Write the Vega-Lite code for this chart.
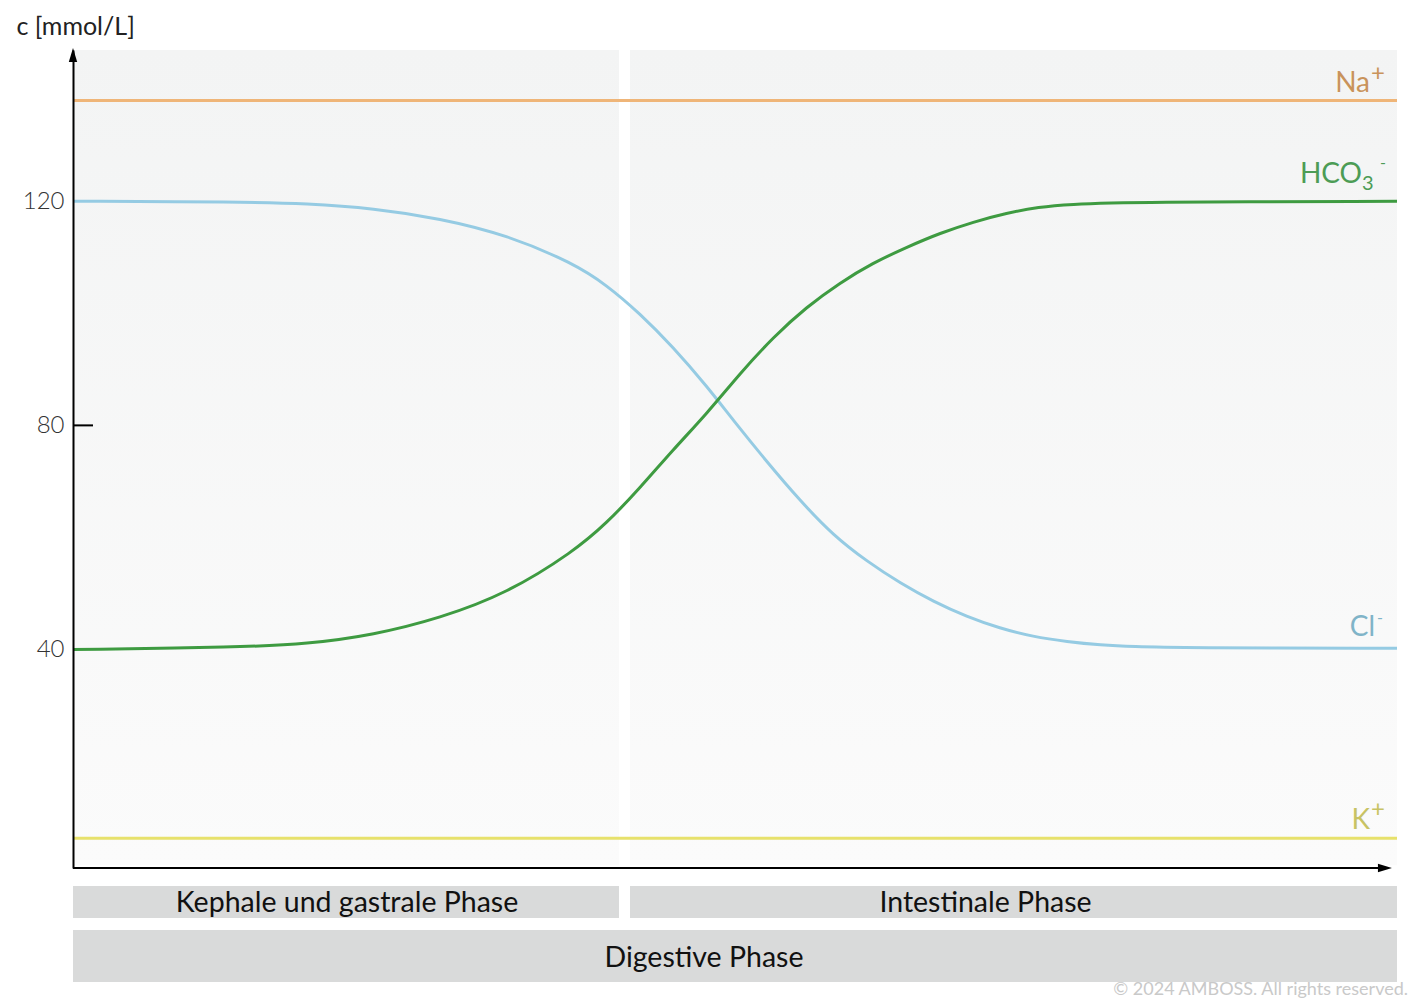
{
  "$schema": "https://vega.github.io/schema/vega-lite/v6.json",
  "width": 1324,
  "height": 818,
  "autosize": {"type": "none"},
  "padding": {"left": 73, "top": 50, "right": 17, "bottom": 132},
  "background": "white",
  "config": {"view": {"stroke": null}, "font": "Lato"},
  "resolve": {"axis": {"y": "independent", "x": "independent"}},
  "datasets": {
    "ions": [
      {"ion": "Na+", "t": 0, "c": 138},
      {"ion": "Na+", "t": 100, "c": 138},
      {"ion": "K+", "t": 0, "c": 6.3},
      {"ion": "K+", "t": 100, "c": 6.3},
      {"ion": "Cl-", "t": 0, "c": 120},
      {"ion": "Cl-", "t": 12.6, "c": 119.9},
      {"ion": "Cl-", "t": 17.7, "c": 119.6},
      {"ion": "Cl-", "t": 22.7, "c": 118.75},
      {"ion": "Cl-", "t": 27.7, "c": 116.96},
      {"ion": "Cl-", "t": 32.8, "c": 113.98},
      {"ion": "Cl-", "t": 37.8, "c": 108.93},
      {"ion": "Cl-", "t": 40.3, "c": 105.06},
      {"ion": "Cl-", "t": 42.8, "c": 100.0},
      {"ion": "Cl-", "t": 45.3, "c": 94.04},
      {"ion": "Cl-", "t": 47.9, "c": 86.91},
      {"ion": "Cl-", "t": 49.85, "c": 80.96},
      {"ion": "Cl-", "t": 52.4, "c": 73.52},
      {"ion": "Cl-", "t": 54.9, "c": 66.6},
      {"ion": "Cl-", "t": 57.4, "c": 60.4},
      {"ion": "Cl-", "t": 60.0, "c": 55.67},
      {"ion": "Cl-", "t": 62.5, "c": 51.81},
      {"ion": "Cl-", "t": 65.0, "c": 48.53},
      {"ion": "Cl-", "t": 67.5, "c": 45.85},
      {"ion": "Cl-", "t": 70.0, "c": 43.78},
      {"ion": "Cl-", "t": 72.5, "c": 42.28},
      {"ion": "Cl-", "t": 75.1, "c": 41.39},
      {"ion": "Cl-", "t": 77.6, "c": 40.8},
      {"ion": "Cl-", "t": 80.1, "c": 40.5},
      {"ion": "Cl-", "t": 83.6, "c": 40.32},
      {"ion": "Cl-", "t": 100, "c": 40.2},
      {"ion": "HCO3-", "t": 0, "c": 40},
      {"ion": "HCO3-", "t": 12.6, "c": 40.39},
      {"ion": "HCO3-", "t": 17.7, "c": 40.98},
      {"ion": "HCO3-", "t": 22.7, "c": 42.59},
      {"ion": "HCO3-", "t": 27.7, "c": 45.57},
      {"ion": "HCO3-", "t": 32.8, "c": 50.03},
      {"ion": "HCO3-", "t": 37.8, "c": 57.46},
      {"ion": "HCO3-", "t": 40.3, "c": 62.52},
      {"ion": "HCO3-", "t": 42.8, "c": 68.77},
      {"ion": "HCO3-", "t": 45.3, "c": 75.61},
      {"ion": "HCO3-", "t": 47.9, "c": 82.16},
      {"ion": "HCO3-", "t": 50.4, "c": 89.35},
      {"ion": "HCO3-", "t": 52.9, "c": 95.78},
      {"ion": "HCO3-", "t": 55.4, "c": 101.13},
      {"ion": "HCO3-", "t": 57.9, "c": 105.41},
      {"ion": "HCO3-", "t": 60.4, "c": 108.98},
      {"ion": "HCO3-", "t": 63.0, "c": 111.84},
      {"ion": "HCO3-", "t": 65.5, "c": 114.34},
      {"ion": "HCO3-", "t": 68.0, "c": 116.3},
      {"ion": "HCO3-", "t": 70.5, "c": 117.91},
      {"ion": "HCO3-", "t": 73.0, "c": 118.98},
      {"ion": "HCO3-", "t": 75.1, "c": 119.45},
      {"ion": "HCO3-", "t": 80.1, "c": 119.87},
      {"ion": "HCO3-", "t": 100, "c": 120}
    ],
    "phases": [
      {"phase": "Kephale und gastrale Phase", "start": 0, "end": 41.24, "level": "sub"},
      {"phase": "Intestinale Phase", "start": 42.07, "end": 100, "level": "sub"},
      {"phase": "Digestive Phase", "start": 0, "end": 100, "level": "main"}
    ],
    "one": [{}]
  },
  "layer": [
    {
      "data": {"name": "phases"},
      "transform": [{"filter": "datum.level == 'sub'"}],
      "mark": {"type": "rect", "fill": {"gradient": "linear", "x1": 0, "y1": 0, "x2": 0, "y2": 1, "stops": [{"offset": 0, "color": "#f3f4f4"}, {"offset": 1, "color": "#fbfbfb"}]}, "strokeWidth": 0},
      "encoding": {
        "x": {"field": "start", "type": "quantitative", "scale": {"domain": [0, 100], "nice": false, "zero": false}, "axis": null},
        "x2": {"field": "end"},
        "y": {"datum": 147, "type": "quantitative", "scale": {"domain": [1, 147], "nice": false, "zero": false}, "axis": null},
        "y2": {"datum": 1.5}
      }
    },
    {
      "data": {"name": "phases"},
      "transform": [{"filter": "datum.level == 'sub'"}],
      "mark": {"type": "rect", "fill": "#d9dada", "strokeWidth": 0},
      "encoding": {
        "x": {"field": "start", "type": "quantitative", "scale": {"domain": [0, 100], "nice": false, "zero": false}, "axis": null},
        "x2": {"field": "end"},
        "y": {"datum": -2.21, "type": "quantitative", "scale": {"domain": [1, 147], "nice": false, "zero": false}, "axis": null},
        "y2": {"datum": -7.92}
      }
    },
    {
      "data": {"name": "phases"},
      "transform": [{"filter": "datum.level == 'main'"}],
      "mark": {"type": "rect", "fill": "#d9dada", "strokeWidth": 0},
      "encoding": {
        "x": {"field": "start", "type": "quantitative", "scale": {"domain": [0, 100], "nice": false, "zero": false}, "axis": null},
        "x2": {"field": "end"},
        "y": {"datum": -10.07, "type": "quantitative", "scale": {"domain": [1, 147], "nice": false, "zero": false}, "axis": null},
        "y2": {"datum": -19.35}
      }
    },
    {
      "data": {"name": "phases"},
      "transform": [{"filter": "datum.phase == 'Kephale und gastrale Phase'"}, {"calculate": "(datum.start + datum.end) / 2", "as": "mid"}],
      "mark": {"type": "text", "align": "center", "baseline": "alphabetic", "fontSize": 28.5, "color": "#111111", "dx": 1},
      "encoding": {
        "x": {"field": "mid", "type": "quantitative", "scale": {"domain": [0, 100], "nice": false, "zero": false}, "axis": null},
        "y": {"datum": -6.85, "type": "quantitative", "scale": {"domain": [1, 147], "nice": false, "zero": false}, "axis": null},
        "text": {"field": "phase"}
      }
    },
    {
      "data": {"name": "phases"},
      "transform": [{"filter": "datum.phase == 'Intestinale Phase'"}, {"calculate": "(datum.start + datum.end) / 2", "as": "mid"}],
      "mark": {"type": "text", "align": "center", "baseline": "alphabetic", "fontSize": 28.5, "color": "#111111", "dx": -28},
      "encoding": {
        "x": {"field": "mid", "type": "quantitative", "scale": {"domain": [0, 100], "nice": false, "zero": false}, "axis": null},
        "y": {"datum": -6.85, "type": "quantitative", "scale": {"domain": [1, 147], "nice": false, "zero": false}, "axis": null},
        "text": {"field": "phase"}
      }
    },
    {
      "data": {"name": "phases"},
      "transform": [{"filter": "datum.phase == 'Digestive Phase'"}, {"calculate": "(datum.start + datum.end) / 2", "as": "mid"}],
      "mark": {"type": "text", "align": "center", "baseline": "alphabetic", "fontSize": 28.5, "color": "#111111", "dx": -31},
      "encoding": {
        "x": {"field": "mid", "type": "quantitative", "scale": {"domain": [0, 100], "nice": false, "zero": false}, "axis": null},
        "y": {"datum": -16.67, "type": "quantitative", "scale": {"domain": [1, 147], "nice": false, "zero": false}, "axis": null},
        "text": {"field": "phase"}
      }
    },
    {
      "data": {"name": "ions"},
      "mark": {"type": "line", "strokeWidth": 3, "interpolate": "basis"},
      "encoding": {
        "x": {"field": "t", "type": "quantitative", "scale": {"domain": [0, 100], "nice": false, "zero": false}, "axis": null},
        "y": {
          "field": "c", "type": "quantitative",
          "scale": {"domain": [1, 147], "nice": false, "zero": false},
          "axis": {
            "orient": "left",
            "values": [40, 80, 120], "ticks": false, "grid": false, "zindex": 1,
            "domainColor": "#000000", "domainWidth": 2,
            "labelFontSize": 24, "labelFontWeight": 300, "labelColor": "#333333", "labelPadding": 9, "labelFont": "Lato",
            "title": "c [mmol/L]", "titleAngle": 0, "titleX": -57, "titleY": -16, "titleAlign": "left", "titleBaseline": "alphabetic",
            "titleFontSize": 25, "titleFontWeight": 400, "titleColor": "#222222", "titleFont": "Lato"
          }
        },
        "color": {"field": "ion", "type": "nominal", "scale": {"domain": ["Na+", "K+", "Cl-", "HCO3-"], "range": ["#efb578", "#e7e16b", "#95cbe3", "#3e9b41"]}, "legend": null},
        "order": {"field": "t", "type": "quantitative"}
      }
    },
    {
      "data": {"name": "one"},
      "mark": {"type": "rule", "color": "#000000", "strokeWidth": 2},
      "encoding": {
        "x": {"datum": 0, "type": "quantitative", "scale": {"domain": [0, 100], "nice": false, "zero": false}, "axis": null},
        "x2": {"datum": 1.51},
        "y": {"datum": 80, "type": "quantitative", "scale": {"domain": [1, 147], "nice": false, "zero": false}, "axis": null}
      }
    },
    {
      "data": {"name": "one"},
      "mark": {"type": "rule", "color": "#000000", "strokeWidth": 2},
      "encoding": {
        "x": {"datum": 0, "type": "quantitative", "scale": {"domain": [0, 100], "nice": false, "zero": false}, "axis": null},
        "x2": {"datum": 99.0},
        "y": {"datum": 1, "type": "quantitative", "scale": {"domain": [1, 147], "nice": false, "zero": false}, "axis": null}
      }
    },
    {
      "data": {"name": "one"},
      "mark": {"type": "point", "shape": "M0,-1L0.6,1L-0.6,1Z", "filled": true, "color": "#000000", "size": 196, "opacity": 1, "strokeWidth": 0},
      "encoding": {
        "x": {"datum": 0, "type": "quantitative", "scale": {"domain": [0, 100], "nice": false, "zero": false}, "axis": null},
        "y": {"datum": 146.1, "type": "quantitative", "scale": {"domain": [1, 147], "nice": false, "zero": false}, "axis": null}
      }
    },
    {
      "data": {"name": "one"},
      "mark": {"type": "point", "shape": "M1,0L-1,-0.6L-1,0.6Z", "filled": true, "color": "#000000", "size": 196, "opacity": 1, "strokeWidth": 0},
      "encoding": {
        "x": {"datum": 99.09, "type": "quantitative", "scale": {"domain": [0, 100], "nice": false, "zero": false}, "axis": null},
        "y": {"datum": 1, "type": "quantitative", "scale": {"domain": [1, 147], "nice": false, "zero": false}, "axis": null}
      }
    },
    {
      "data": {"name": "ions"},
      "transform": [{"filter": "datum.ion == 'Na+' && datum.t == 100"}],
      "layer": [
        {"mark": {"type": "text", "text": "Na", "align": "right", "baseline": "alphabetic", "dx": -27, "dy": -8, "fontSize": 28, "color": "#c9935b"}},
        {"mark": {"type": "text", "text": "+", "align": "center", "baseline": "middle", "dx": -19, "dy": -26, "fontSize": 24, "color": "#c9935b"}}
      ],
      "encoding": {
        "x": {"field": "t", "type": "quantitative", "scale": {"domain": [0, 100], "nice": false, "zero": false}, "axis": null},
        "y": {"field": "c", "type": "quantitative", "scale": {"domain": [1, 147], "nice": false, "zero": false}, "axis": null}
      }
    },
    {
      "data": {"name": "ions"},
      "transform": [{"filter": "datum.ion == 'HCO3-' && datum.t == 100"}],
      "layer": [
        {"mark": {"type": "text", "text": "HCO", "align": "right", "baseline": "alphabetic", "dx": -35, "dy": -18, "fontSize": 28, "color": "#4c9c55"}},
        {"mark": {"type": "text", "text": "3", "align": "left", "baseline": "alphabetic", "dx": -35, "dy": -11, "fontSize": 20, "color": "#4c9c55"}},
        {"mark": {"type": "text", "text": "-", "align": "center", "baseline": "middle", "dx": -14, "dy": -38, "fontSize": 16, "color": "#4c9c55"}}
      ],
      "encoding": {
        "x": {"field": "t", "type": "quantitative", "scale": {"domain": [0, 100], "nice": false, "zero": false}, "axis": null},
        "y": {"field": "c", "type": "quantitative", "scale": {"domain": [1, 147], "nice": false, "zero": false}, "axis": null}
      }
    },
    {
      "data": {"name": "ions"},
      "transform": [{"filter": "datum.ion == 'Cl-' && datum.t == 100"}],
      "layer": [
        {"mark": {"type": "text", "text": "Cl", "align": "right", "baseline": "alphabetic", "dx": -22, "dy": -12, "fontSize": 28, "color": "#80b4c8"}},
        {"mark": {"type": "text", "text": "-", "align": "center", "baseline": "middle", "dx": -17, "dy": -30, "fontSize": 16, "color": "#80b4c8"}}
      ],
      "encoding": {
        "x": {"field": "t", "type": "quantitative", "scale": {"domain": [0, 100], "nice": false, "zero": false}, "axis": null},
        "y": {"field": "c", "type": "quantitative", "scale": {"domain": [1, 147], "nice": false, "zero": false}, "axis": null}
      }
    },
    {
      "data": {"name": "ions"},
      "transform": [{"filter": "datum.ion == 'K+' && datum.t == 100"}],
      "layer": [
        {"mark": {"type": "text", "text": "K", "align": "right", "baseline": "alphabetic", "dx": -27, "dy": -9, "fontSize": 28, "color": "#c8c364"}},
        {"mark": {"type": "text", "text": "+", "align": "center", "baseline": "middle", "dx": -19, "dy": -28, "fontSize": 24, "color": "#c8c364"}}
      ],
      "encoding": {
        "x": {"field": "t", "type": "quantitative", "scale": {"domain": [0, 100], "nice": false, "zero": false}, "axis": null},
        "y": {"field": "c", "type": "quantitative", "scale": {"domain": [1, 147], "nice": false, "zero": false}, "axis": null}
      }
    },
    {
      "data": {"name": "one"},
      "mark": {"type": "text", "text": "© 2024 AMBOSS. All rights reserved.", "align": "right", "baseline": "alphabetic", "dx": 11, "fontSize": 18, "color": "#c9c9c9"},
      "encoding": {
        "x": {"datum": 100, "type": "quantitative", "scale": {"domain": [0, 100], "nice": false, "zero": false}, "axis": null},
        "y": {"datum": -21.67, "type": "quantitative", "scale": {"domain": [1, 147], "nice": false, "zero": false}, "axis": null}
      }
    }
  ]
}
